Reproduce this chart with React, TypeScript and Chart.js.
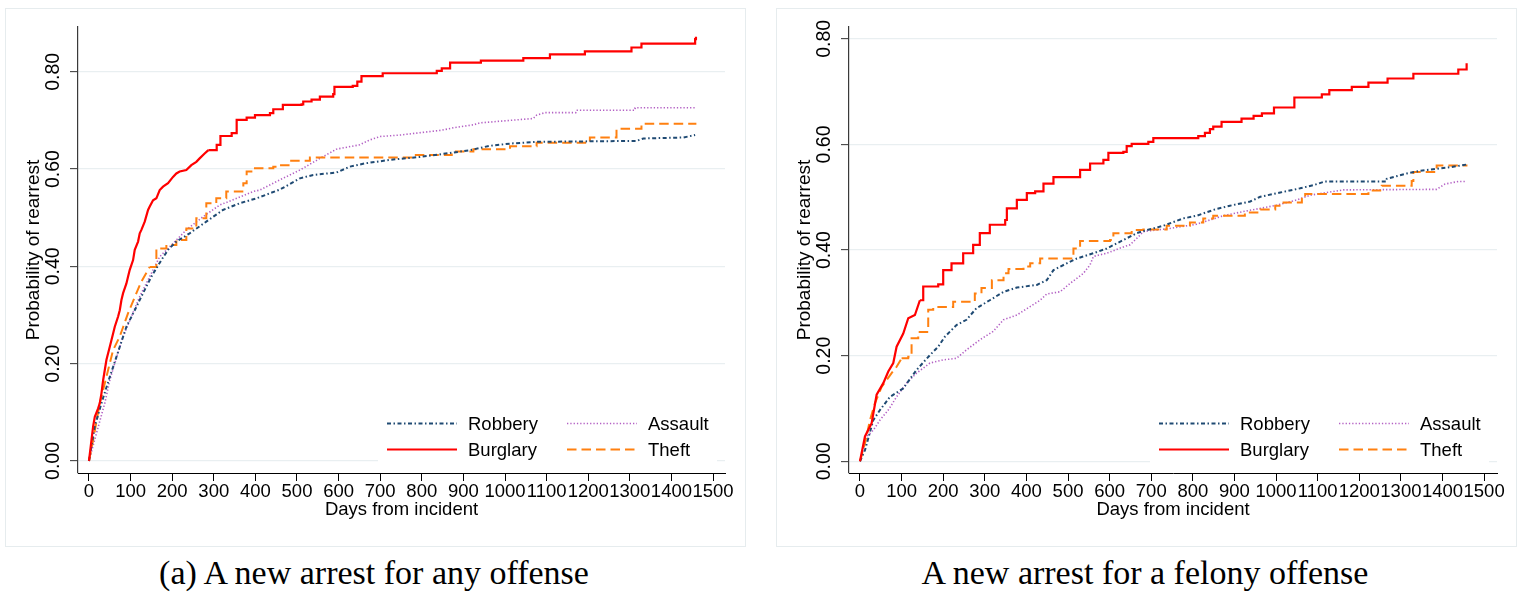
import React, { useEffect, useRef } from "react";
import { Chart, registerables } from "chart.js";

Chart.register(...registerables);

// ---------- shared axis / label data ----------
const xTicks = [0, 100, 200, 300, 400, 500, 600, 700, 800, 900, 1000, 1100, 1200, 1300, 1400, 1500];
const yTicks = [0, 0.2, 0.4, 0.6, 0.8];
const legendOrder = ["Robbery", "Assault", "Burglary", "Theft"];
const xTitle = "Days from incident";
const yTitle = "Probability of rearrest";
const captionAny = "(a) A new arrest for any offense";
const captionFelony = "A new arrest for a felony offense";

// ---------- panel (a): any offense ----------
const anyRobberyDays = [0, 14, 30, 50, 66, 78, 90, 110, 130, 150, 174, 190, 210, 242, 282, 322, 363, 403, 459, 480, 507, 539, 595, 627, 665, 724, 796, 876, 916, 964, 1020, 1076, 1316, 1333, 1429, 1457];
const anyRobberyRate = [0, 0.071, 0.119, 0.173, 0.214, 0.245, 0.276, 0.31, 0.345, 0.379, 0.413, 0.434, 0.451, 0.468, 0.492, 0.516, 0.53, 0.54, 0.558, 0.568, 0.581, 0.588, 0.593, 0.605, 0.612, 0.619, 0.625, 0.634, 0.639, 0.648, 0.653, 0.656, 0.658, 0.663, 0.665, 0.67];
const anyRobberyStepFrom = 1500;

const anyAssaultDays = [0, 18, 38, 50, 62, 82, 102, 122, 146, 170, 202, 234, 274, 314, 355, 395, 411, 443, 459, 507, 555, 595, 651, 675, 700, 748, 788, 848, 876, 924, 940, 996, 1068, 1076, 1096, 1170, 1172, 1312, 1313, 1457];
const anyAssaultRate = [0, 0.057, 0.119, 0.166, 0.201, 0.256, 0.297, 0.338, 0.379, 0.42, 0.447, 0.475, 0.502, 0.526, 0.54, 0.554, 0.557, 0.571, 0.578, 0.598, 0.622, 0.641, 0.65, 0.66, 0.667, 0.67, 0.674, 0.68, 0.685, 0.691, 0.695, 0.699, 0.704, 0.711, 0.716, 0.716, 0.721, 0.721, 0.726, 0.726];
const anyAssaultStepFrom = 1500;

const anyBurglaryDays = [0, 6, 10, 14, 22, 26, 30, 34, 38, 42, 50, 58, 62, 70, 74, 78, 82, 90, 94, 98, 106, 110, 118, 122, 126, 134, 142, 146, 154, 162, 170, 178, 190, 202, 210, 218, 234, 246, 258, 266, 278, 287, 307, 315, 316, 340, 343, 354, 355, 379, 399, 435, 443, 466, 511, 515, 535, 555, 587, 590, 634, 645, 655, 705, 706, 835, 836, 848, 867, 868, 941, 942, 1043, 1044, 1107, 1108, 1191, 1192, 1303, 1304, 1327, 1328, 1456, 1457, 1459];
const anyBurglaryRate = [0, 0.043, 0.071, 0.091, 0.108, 0.119, 0.139, 0.166, 0.187, 0.208, 0.235, 0.262, 0.276, 0.297, 0.31, 0.331, 0.345, 0.365, 0.379, 0.393, 0.413, 0.434, 0.451, 0.468, 0.475, 0.492, 0.516, 0.523, 0.536, 0.54, 0.557, 0.564, 0.571, 0.584, 0.591, 0.595, 0.598, 0.608, 0.615, 0.622, 0.632, 0.639, 0.65, 0.65, 0.668, 0.668, 0.674, 0.674, 0.701, 0.706, 0.711, 0.715, 0.723, 0.732, 0.733, 0.739, 0.743, 0.749, 0.754, 0.769, 0.771, 0.78, 0.791, 0.791, 0.797, 0.797, 0.802, 0.807, 0.807, 0.819, 0.819, 0.823, 0.823, 0.828, 0.828, 0.836, 0.836, 0.842, 0.842, 0.85, 0.85, 0.858, 0.858, 0.867, 0.872];
const anyBurglaryStepFrom = 287;

const anyTheftDays = [0, 10, 26, 46, 58, 74, 94, 114, 126, 146, 162, 186, 210, 234, 258, 282, 306, 330, 371, 379, 395, 443, 459, 483, 531, 779, 780, 871, 872, 923, 924, 1011, 1012, 1075, 1076, 1203, 1204, 1267, 1268, 1327, 1328, 1460];
const anyTheftRate = [0, 0.043, 0.119, 0.187, 0.228, 0.256, 0.304, 0.345, 0.369, 0.399, 0.437, 0.444, 0.454, 0.478, 0.499, 0.53, 0.54, 0.554, 0.571, 0.595, 0.602, 0.605, 0.608, 0.617, 0.624, 0.624, 0.629, 0.629, 0.636, 0.636, 0.641, 0.641, 0.647, 0.647, 0.654, 0.654, 0.665, 0.665, 0.683, 0.683, 0.693, 0.693];
const anyTheftStepFrom = 146;

// ---------- panel (b): felony offense ----------
const felRobberyDays = [0, 12, 32, 48, 72, 104, 136, 168, 188, 204, 232, 256, 280, 312, 345, 377, 425, 449, 465, 497, 521, 561, 593, 633, 665, 681, 729, 777, 809, 853, 889, 938, 962, 1010, 1058, 1090, 1118, 1265, 1266, 1314, 1346, 1418, 1458];
const felRobberyRate = [0, 0.021, 0.078, 0.097, 0.122, 0.138, 0.173, 0.201, 0.217, 0.236, 0.258, 0.268, 0.29, 0.305, 0.321, 0.329, 0.334, 0.343, 0.362, 0.375, 0.384, 0.394, 0.403, 0.419, 0.432, 0.436, 0.446, 0.46, 0.465, 0.477, 0.484, 0.492, 0.501, 0.509, 0.517, 0.523, 0.53, 0.53, 0.535, 0.545, 0.55, 0.557, 0.562];
const felRobberyStepFrom = 1500;

const felAssaultDays = [0, 16, 32, 48, 68, 88, 112, 136, 168, 200, 232, 256, 288, 320, 345, 377, 409, 433, 449, 481, 505, 537, 553, 561, 593, 633, 649, 669, 681, 745, 809, 873, 921, 962, 1002, 1050, 1082, 1162, 1386, 1406, 1438, 1458];
const felAssaultRate = [0, 0.047, 0.059, 0.078, 0.097, 0.122, 0.148, 0.167, 0.186, 0.192, 0.195, 0.211, 0.23, 0.246, 0.268, 0.277, 0.293, 0.305, 0.317, 0.321, 0.337, 0.356, 0.372, 0.388, 0.394, 0.406, 0.41, 0.425, 0.435, 0.441, 0.449, 0.465, 0.473, 0.479, 0.485, 0.495, 0.504, 0.514, 0.515, 0.525, 0.53, 0.53];
const felAssaultStepFrom = 1500;

const felBurglaryDays = [0, 12, 28, 40, 56, 68, 80, 88, 104, 116, 132, 144, 152, 188, 200, 220, 248, 272, 288, 312, 349, 353, 377, 401, 421, 441, 465, 509, 529, 553, 585, 597, 633, 641, 653, 693, 705, 812, 813, 829, 841, 849, 868, 869, 916, 917, 946, 966, 994, 995, 1043, 1044, 1109, 1110, 1127, 1128, 1181, 1182, 1221, 1222, 1267, 1268, 1329, 1330, 1437, 1438, 1457, 1458];
const felBurglaryRate = [0, 0.047, 0.072, 0.126, 0.148, 0.17, 0.186, 0.217, 0.242, 0.271, 0.277, 0.305, 0.331, 0.335, 0.362, 0.375, 0.394, 0.41, 0.432, 0.448, 0.457, 0.479, 0.495, 0.508, 0.511, 0.526, 0.538, 0.538, 0.552, 0.564, 0.571, 0.584, 0.586, 0.597, 0.601, 0.605, 0.612, 0.612, 0.616, 0.622, 0.629, 0.634, 0.634, 0.643, 0.643, 0.649, 0.654, 0.659, 0.659, 0.67, 0.67, 0.689, 0.689, 0.695, 0.695, 0.703, 0.703, 0.709, 0.709, 0.717, 0.717, 0.725, 0.725, 0.734, 0.734, 0.742, 0.742, 0.754];
const felBurglaryStepFrom = 144;

const felTheftDays = [0, 12, 24, 36, 52, 76, 88, 100, 116, 124, 140, 164, 176, 212, 224, 268, 276, 292, 317, 345, 357, 393, 409, 433, 493, 513, 529, 601, 609, 653, 681, 737, 793, 825, 849, 924, 925, 962, 998, 1018, 1061, 1062, 1070, 1221, 1222, 1253, 1254, 1325, 1326, 1330, 1385, 1386, 1460];
const felTheftRate = [0, 0.034, 0.078, 0.11, 0.141, 0.167, 0.179, 0.195, 0.198, 0.233, 0.245, 0.287, 0.292, 0.292, 0.302, 0.302, 0.318, 0.328, 0.343, 0.356, 0.364, 0.369, 0.375, 0.384, 0.384, 0.403, 0.417, 0.419, 0.432, 0.438, 0.439, 0.446, 0.452, 0.46, 0.465, 0.465, 0.471, 0.477, 0.484, 0.49, 0.49, 0.497, 0.506, 0.506, 0.513, 0.513, 0.522, 0.522, 0.531, 0.548, 0.548, 0.56, 0.56];
const felTheftStepFrom = 100;

// ---------- styles ----------
const SANS = '"Liberation Sans", Arial, Helvetica, sans-serif';
const SERIF = '"Liberation Serif", "Times New Roman", serif';

const seriesStyle: Record<string, any> = {
  Robbery: { color: "#1f4a73", width: 2, dash: [4, 2.5, 1.5, 2.5] },
  Assault: { color: "#b360c4", width: 1.6, dash: [1.3, 2] },
  Burglary: { color: "#ff0000", width: 2.2, dash: [] },
  Theft: { color: "#ff8010", width: 2, dash: [9.5, 5] },
};

type Series = { label: string; days: number[]; rate: number[]; stepFrom: number };

const insideLegend = {
  id: "insideLegend",
  afterDraw(chart: any) {
    const { ctx, chartArea } = chart;
    const { right, bottom } = chartArea;
    ctx.save();
    ctx.fillStyle = "#ffffff";
    ctx.fillRect(right - 347, bottom - 66, 339, 62);
    ctx.font = `18.5px ${SANS}`;
    ctx.textBaseline = "middle";
    ctx.textAlign = "left";
    legendOrder.forEach((name, i) => {
      const ds = chart.data.datasets.find((d: any) => d.label === name);
      if (!ds) return;
      const col = i % 2;
      const row = Math.floor(i / 2);
      const x0 = right - 338 + col * 180;
      const y = bottom - 49.5 + row * 26;
      ctx.beginPath();
      ctx.strokeStyle = ds.borderColor;
      ctx.lineWidth = Math.min(ds.borderWidth, 1.8);
      ctx.setLineDash(ds.borderDash || []);
      ctx.moveTo(x0, y);
      ctx.lineTo(x0 + 70, y);
      ctx.stroke();
      ctx.setLineDash([]);
      ctx.fillStyle = "#000";
      ctx.fillText(name, x0 + 81, y + 1);
    });
    ctx.restore();
  },
};

function buildDatasets(series: Series[]) {
  const out: any[] = [];
  series.forEach((s) => {
    const st = seriesStyle[s.label];
    const pts = s.days.map((d, i) => ({ x: d, y: s.rate[i] }));
    const base = {
      label: s.label,
      borderColor: st.color,
      backgroundColor: st.color,
      borderWidth: st.width,
      borderDash: st.dash,
      borderCapStyle: "butt",
      borderJoinStyle: "miter",
      tension: 0,
      pointRadius: 0,
      fill: false,
    };
    // continuous-looking early part (many tiny steps)
    out.push({ ...base, data: pts.filter((p) => p.x <= s.stepFrom), stepped: false });
    // visibly stepped Kaplan-Meier part
    const late = pts.filter((p) => p.x >= s.stepFrom);
    if (late.length > 1) out.push({ ...base, label: s.label + " ", data: late, stepped: "before" });
  });
  return out;
}

function Panel(props: {
  series: Series[];
  left: number;
  width: number;
  padRight: number;
  yMin: number;
  yMax: number;
  xMin: number;
  xMax: number;
}) {
  const ref = useRef<HTMLCanvasElement | null>(null);
  useEffect(() => {
    if (!ref.current) return;
    const chart = new Chart(ref.current, {
      type: "line",
      data: { datasets: buildDatasets(props.series) } as any,
      options: {
        responsive: false,
        animation: false,
        events: [],
        layout: { padding: { top: 19, right: props.padRight, bottom: 0, left: 0 } },
        plugins: { legend: { display: false }, tooltip: { enabled: false } },
        scales: {
          x: {
            type: "linear",
            min: props.xMin,
            max: props.xMax,
            bounds: "data",
            afterBuildTicks: (s: any) => {
              s.ticks = xTicks.map((v) => ({ value: v }));
            },
            afterFit: (s: any) => {
              s.height = 74;
            },
            grid: { drawOnChartArea: false, drawTicks: true, tickLength: 8, tickColor: "#000", tickWidth: 1 },
            border: { display: true, color: "#000", width: 1 },
            ticks: {
              autoSkip: false,
              maxRotation: 0,
              minRotation: 0,
              padding: 0,
              color: "#000",
              font: { family: SANS, size: 18.5 },
              callback: (v: any) => String(v),
            },
            title: {
              display: true,
              text: xTitle,
              color: "#000",
              font: { family: SANS, size: 18.5 },
              padding: { top: 0, bottom: 25.5 },
            },
          },
          y: {
            type: "linear",
            min: props.yMin,
            max: props.yMax,
            bounds: "data",
            afterBuildTicks: (s: any) => {
              s.ticks = yTicks.map((v) => ({ value: v }));
            },
            afterFit: (s: any) => {
              s.width = 73;
            },
            grid: { color: "#e9eff1", lineWidth: 1.3, drawTicks: true, tickLength: 8, tickColor: "#333", tickWidth: 1 },
            border: { display: true, color: "#3a3a3a", width: 1.2 },
            ticks: {
              minRotation: 90,
              maxRotation: 90,
              crossAlign: "center",
              padding: -3,
              color: "#000",
              font: { family: SANS, size: 19.5 },
              callback: (v: any) => Number(v).toFixed(2),
            },
            title: {
              display: true,
              text: yTitle,
              color: "#000",
              font: { family: SANS, size: 19 },
              padding: { top: 17, bottom: 0 },
            },
          },
        },
      } as any,
      plugins: [insideLegend],
    });
    return () => chart.destroy();
  }, []);
  return (
    <>
      <div
        style={{
          position: "absolute",
          left: props.left,
          top: 8,
          width: props.width,
          height: 539,
          boxSizing: "border-box",
          border: "1px solid #e6ecee",
          background: "#fff",
        }}
      />
      <canvas
        ref={ref}
        width={props.width}
        height={539}
        style={{ position: "absolute", left: props.left, top: 8, width: props.width, height: 539 }}
      />
    </>
  );
}

export default function App() {
  const anySeries: Series[] = [
    { label: "Burglary", days: anyBurglaryDays, rate: anyBurglaryRate, stepFrom: anyBurglaryStepFrom },
    { label: "Robbery", days: anyRobberyDays, rate: anyRobberyRate, stepFrom: anyRobberyStepFrom },
    { label: "Theft", days: anyTheftDays, rate: anyTheftRate, stepFrom: anyTheftStepFrom },
    { label: "Assault", days: anyAssaultDays, rate: anyAssaultRate, stepFrom: anyAssaultStepFrom },
  ];
  const felSeries: Series[] = [
    { label: "Burglary", days: felBurglaryDays, rate: felBurglaryRate, stepFrom: felBurglaryStepFrom },
    { label: "Robbery", days: felRobberyDays, rate: felRobberyRate, stepFrom: felRobberyStepFrom },
    { label: "Theft", days: felTheftDays, rate: felTheftRate, stepFrom: felTheftStepFrom },
    { label: "Assault", days: felAssaultDays, rate: felAssaultRate, stepFrom: felAssaultStepFrom },
  ];
  const captionStyle: React.CSSProperties = {
    position: "absolute",
    top: 555,
    width: 700,
    textAlign: "center",
    fontFamily: SERIF,
    fontSize: 34,
    lineHeight: "36px",
    color: "#000",
    whiteSpace: "nowrap",
  };
  return (
    <div style={{ position: "absolute", left: 0, top: 0, width: 1522, height: 593, background: "#fff", overflow: "hidden" }}>
      <Panel series={anySeries} left={5} width={741} padRight={21} yMin={-0.0247} yMax={0.8921} xMin={-26.4} xMax={1528.8} />
      <Panel series={felSeries} left={776} width={741} padRight={20} yMin={-0.0222} yMax={0.8225} xMin={-26.4} xMax={1531} />
      <div style={{ ...captionStyle, left: 374 - 350 }}>{captionAny}</div>
      <div style={{ ...captionStyle, left: 1145 - 350 }}>{captionFelony}</div>
    </div>
  );
}
